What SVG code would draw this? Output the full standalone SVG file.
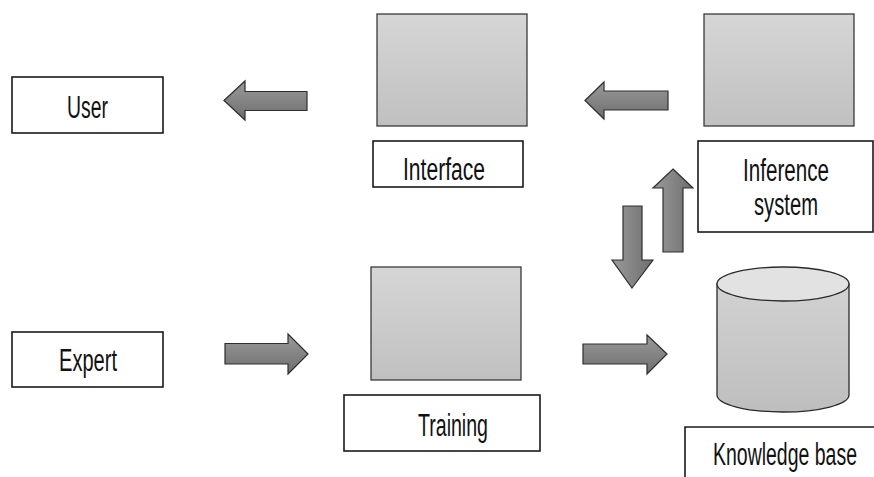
<svg xmlns="http://www.w3.org/2000/svg" width="874" height="477" viewBox="0 0 874 477">
  <defs>
    <linearGradient id="panelFill" x1="0" y1="0" x2="0" y2="1">
      <stop offset="0" stop-color="#d6d6d6"/>
      <stop offset="1" stop-color="#c0c0c0"/>
    </linearGradient>
    <linearGradient id="arrowFillH" x1="0" y1="0" x2="0" y2="1">
      <stop offset="0" stop-color="#9a9a9a"/>
      <stop offset="1" stop-color="#6e6e6e"/>
    </linearGradient>
    <linearGradient id="arrowFillV" x1="0" y1="0" x2="1" y2="0">
      <stop offset="0" stop-color="#9a9a9a"/>
      <stop offset="1" stop-color="#6e6e6e"/>
    </linearGradient>
    <linearGradient id="drumFill" x1="0" y1="0" x2="0" y2="1">
      <stop offset="0" stop-color="#d2d2d2"/>
      <stop offset="1" stop-color="#bebebe"/>
    </linearGradient>
  </defs>
  <style>
    .label { fill: #ffffff; stroke: #1a1a1a; stroke-width: 1.6; }
    .panel { fill: url(#panelFill); stroke: #3a3a3a; stroke-width: 1.3; }
    .arrow-h { fill: url(#arrowFillH); stroke: #2e2e2e; stroke-width: 1.2; stroke-linejoin: miter; }
    .arrow-v { fill: url(#arrowFillV); stroke: #2e2e2e; stroke-width: 1.2; stroke-linejoin: miter; }
    .txt { font-family: "Liberation Sans", "DejaVu Sans", sans-serif; font-size: 31px; fill: #111111; text-anchor: middle; }
  </style>

  <rect x="0" y="0" width="874" height="477" fill="#ffffff"/>

  <g id="user">
    <rect class="label" x="12" y="77" width="151" height="56"/>
    <text class="txt" x="87.5" y="118" textLength="41" lengthAdjust="spacingAndGlyphs">User</text>
  </g>

  <g id="expert">
    <rect class="label" x="12" y="332" width="151" height="55"/>
    <text class="txt" x="88" y="371" textLength="58" lengthAdjust="spacingAndGlyphs">Expert</text>
  </g>

  <g id="interface">
    <rect class="panel" x="377" y="14" width="150" height="112"/>
    <rect class="label" x="373" y="141" width="150" height="46"/>
    <text class="txt" x="444" y="180" textLength="82" lengthAdjust="spacingAndGlyphs">Interface</text>
  </g>

  <g id="inference">
    <rect class="panel" x="704" y="14" width="150" height="112"/>
    <rect class="label" x="698" y="141" width="175" height="91"/>
    <text class="txt" x="786" y="181" textLength="86" lengthAdjust="spacingAndGlyphs">Inference</text>
    <text class="txt" x="786" y="215" textLength="64" lengthAdjust="spacingAndGlyphs">system</text>
  </g>

  <g id="training">
    <rect class="panel" x="371" y="267" width="150" height="113"/>
    <rect class="label" x="344" y="395" width="196" height="56"/>
    <text class="txt" x="453" y="436" textLength="70" lengthAdjust="spacingAndGlyphs">Training</text>
  </g>

  <g id="knowledge-base">
    <path d="M717,284 L717,395 A66,17 0 0 0 849,395 L849,284 Z" fill="url(#drumFill)" stroke="#2a2a2a" stroke-width="1.3"/>
    <ellipse cx="783" cy="284" rx="66" ry="17" fill="#e2e2e2" stroke="#2a2a2a" stroke-width="1.3"/>
    <!-- label box runs past the right and bottom edges -->
    <path d="M685,477 L685,427 L874,427" fill="#ffffff" stroke="#1a1a1a" stroke-width="1.6"/>
    <text class="txt" x="785" y="465" textLength="144" lengthAdjust="spacingAndGlyphs">Knowledge base</text>
  </g>

  <g id="connectors">
    <!-- Interface to User -->
    <polygon class="arrow-h" points="224,100.5 245,81 245,91.5 307,91.5 307,110.5 245,110.5 245,120"/>
    <!-- Inference system to Interface -->
    <polygon class="arrow-h" points="585,100.5 604,82 604,91 668,91 668,110 604,110 604,119"/>
    <!-- Knowledge base up to Inference system -->
    <polygon class="arrow-v" points="673,169 693,188 683,188 683,252 663,252 663,188 653,188"/>
    <!-- Inference system down to Knowledge base -->
    <polygon class="arrow-v" points="632,288 653,260 642,260 642,206 623,206 623,260 612,260"/>
    <!-- Expert to Training -->
    <polygon class="arrow-h" points="308,354 288,334 288,343.5 225,343.5 225,364 288,364 288,374"/>
    <!-- Training to Knowledge base -->
    <polygon class="arrow-h" points="667,354 647,335 647,344 583,344 583,364 647,364 647,374"/>
  </g>
</svg>
